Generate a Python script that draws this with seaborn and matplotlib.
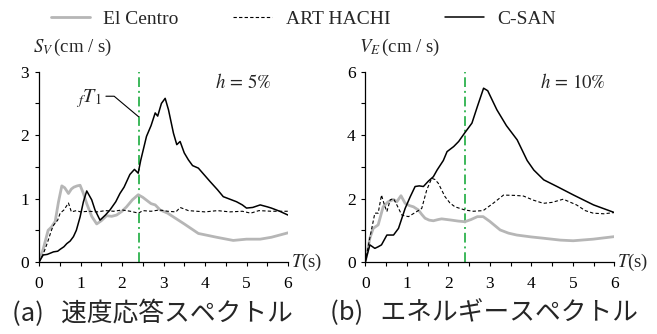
import numpy as np
import pandas as pd
import matplotlib
matplotlib.use("Agg")
import matplotlib.pyplot as plt
from matplotlib.ticker import MultipleLocator
import seaborn as sns

# ---- (a) velocity response spectra, h = 5% ----
t_ec_a = [0, 0.1, 0.22, 0.3, 0.39, 0.47, 0.55, 0.62, 0.71, 0.78, 0.84, 0.92, 0.99, 1.07,
          1.15, 1.27, 1.39, 1.5, 1.63, 1.75, 1.87, 2.0, 2.11, 2.25, 2.39, 2.5, 2.6, 2.7,
          2.8, 2.92, 3.1, 3.24, 3.5, 3.84, 4.28, 4.68, 5.0, 5.33, 5.6, 6.0]
sv_ec_a = [0, 0.2, 0.5, 0.55, 0.64, 0.95, 1.2, 1.17, 1.08, 1.15, 1.18, 1.2, 1.21, 1.08,
           0.92, 0.72, 0.6, 0.65, 0.73, 0.72, 0.74, 0.8, 0.87, 0.98, 1.06, 1.02, 0.97, 0.92,
           0.9, 0.82, 0.77, 0.71, 0.6, 0.45, 0.39, 0.34, 0.36, 0.36, 0.39, 0.46]

t_art_a = [0, 0.1, 0.2, 0.3, 0.35, 0.45, 0.51, 0.6, 0.71, 0.78, 0.9, 1.0, 1.2, 1.4, 1.6,
           1.8, 2.0, 2.2, 2.4, 2.5, 2.7, 2.9, 3.1, 3.3, 3.4, 3.6, 3.8, 4.0, 4.3, 4.6, 4.9,
           5.1, 5.3, 5.6, 6.0]
sv_art_a = [0, 0.12, 0.3, 0.5, 0.58, 0.66, 0.77, 0.82, 0.93, 0.79, 0.81, 0.79, 0.8, 0.79,
            0.81, 0.8, 0.82, 0.8, 0.77, 0.81, 0.8, 0.82, 0.8, 0.79, 0.86, 0.81, 0.8, 0.79,
            0.81, 0.79, 0.8, 0.77, 0.81, 0.8, 0.8]

t_cs_a = [0, 0.1, 0.2, 0.35, 0.45, 0.51, 0.6, 0.67, 0.75, 0.83, 0.9, 0.99, 1.07, 1.15,
          1.21, 1.27, 1.35, 1.47, 1.6, 1.71, 1.85, 1.95, 2.05, 2.19, 2.3, 2.39, 2.45, 2.59,
          2.7, 2.8, 2.86, 2.95, 3.04, 3.12, 3.24, 3.32, 3.4, 3.5, 3.6, 3.7, 3.84, 4.0, 4.12,
          4.3, 4.44, 4.6, 4.76, 4.9, 5.0, 5.15, 5.33, 5.5, 5.6, 5.8, 6.0]
sv_cs_a = [0, 0.11, 0.12, 0.16, 0.17, 0.2, 0.24, 0.29, 0.33, 0.4, 0.5, 0.71, 0.95, 1.12,
           1.05, 0.98, 0.82, 0.66, 0.74, 0.82, 0.95, 1.08, 1.18, 1.38, 1.46, 1.4, 1.6, 1.98,
           2.15, 2.35, 2.3, 2.5, 2.58, 2.4, 2.03, 1.85, 1.9, 1.72, 1.61, 1.52, 1.48, 1.36, 1.27,
           1.14, 1.03, 0.99, 0.95, 0.9, 0.85, 0.86, 0.9, 0.87, 0.85, 0.8, 0.74]

# ---- (b) energy spectra, h = 10% ----
t_ec_b = [0, 0.11, 0.19, 0.31, 0.43, 0.55, 0.68, 0.76, 0.86, 0.96, 1.06, 1.16, 1.28, 1.36,
          1.44, 1.54, 1.64, 1.76, 1.84, 1.96, 2.08, 2.24, 2.4, 2.55, 2.7, 2.84, 3.0, 3.25,
          3.45, 3.65, 4.0, 4.29, 4.7, 5.01, 5.49, 6.0]
ve_ec_b = [0, 0.75, 1.06, 1.17, 1.74, 1.9, 1.97, 1.9, 2.09, 1.85, 1.78, 1.74, 1.64, 1.5,
           1.38, 1.32, 1.3, 1.34, 1.36, 1.34, 1.32, 1.29, 1.27, 1.34, 1.43, 1.43, 1.28, 1.01,
           0.91, 0.85, 0.79, 0.75, 0.69, 0.67, 0.72, 0.8]

t_art_b = [0, 0.1, 0.23, 0.31, 0.39, 0.46, 0.52, 0.6, 0.68, 0.76, 0.88, 1.04, 1.24, 1.36,
           1.48, 1.6, 1.68, 1.76, 1.92, 2.04, 2.16, 2.4, 2.6, 2.84, 3.08, 3.33, 3.6, 3.81,
           4.05, 4.29, 4.5, 4.77, 5.09, 5.3, 5.49, 5.75, 6.0]
ve_art_b = [0, 0.7, 1.54, 1.54, 2.11, 1.8, 1.59, 1.96, 2.0, 1.8, 1.48, 1.43, 1.59, 1.69,
            2.27, 2.64, 2.6, 2.48, 2.06, 1.86, 1.74, 1.64, 1.6, 1.62, 1.85, 2.11, 2.1, 2.08,
            1.95, 1.85, 1.88, 1.98, 1.8, 1.62, 1.54, 1.52, 1.56]

t_cs_b = [0, 0.11, 0.23, 0.31, 0.39, 0.52, 0.68, 0.8, 0.96, 1.08, 1.2, 1.3, 1.4, 1.52,
          1.64, 1.73, 1.88, 1.97, 2.13, 2.25, 2.39, 2.57, 2.7, 2.85, 2.95, 3.17, 3.4, 3.66,
          3.9, 4.06, 4.3, 4.62, 5.02, 5.5, 6.0]
ve_cs_b = [0, 0.54, 0.43, 0.48, 0.54, 0.85, 0.85, 1.06, 1.69, 2.05, 2.38, 2.4, 2.38, 2.55,
           2.69, 2.9, 3.2, 3.48, 3.64, 3.8, 4.06, 4.38, 4.9, 5.48, 5.4, 4.8, 4.3, 3.85,
           3.2, 2.9, 2.59, 2.38, 2.11, 1.8, 1.56]

t_first = 2.4  # first natural period fT1 (s)
series_names = ["El Centro", "ART HACHI", "C-SAN"]
captions = ["(a)   速度応答スペクトル", "(b)   エネルギースペクトル"]

sns.set_style("ticks")
plt.rcParams["font.family"] = ["Liberation Serif", "DejaVu Serif"]
plt.rcParams["mathtext.fontset"] = "stix"

W, H = 657, 334
fig = plt.figure(figsize=(W / 100, H / 100), dpi=100)
ax_a = fig.add_axes([39 / W, 1 - 262 / H, 249 / W, 190.3 / H])
ax_b = fig.add_axes([365.3 / W, 1 - 262 / H, 249 / W, 190.3 / H])

styles = [
    dict(color="#b6b6b6", linewidth=2.0, linestyle="-"),
    dict(color="black", linewidth=0.8, linestyle=(0, (3, 2))),
    dict(color="black", linewidth=1.1, linestyle="-"),
]

panels = [
    (ax_a, [(t_ec_a, sv_ec_a), (t_art_a, sv_art_a), (t_cs_a, sv_cs_a)], 3, 0.5, 1),
    (ax_b, [(t_ec_b, ve_ec_b), (t_art_b, ve_art_b), (t_cs_b, ve_cs_b)], 6, 1, 2),
]

for ax, data, ymax, yminor, ymajor in panels:
    for (t, v), name, st in zip(data, series_names, styles):
        df = pd.DataFrame({"T": t, "V": v})
        sns.lineplot(data=df, x="T", y="V", ax=ax, label=name, sort=False,
                     estimator=None, **st)
    ax.axvline(t_first, color="#3cb85a", linewidth=1.4,
               linestyle=(0, (5, 2, 1, 2)), zorder=1)
    ax.set_xlim(0, 6)
    ax.set_ylim(0, ymax)
    ax.xaxis.set_major_locator(MultipleLocator(1))
    ax.xaxis.set_minor_locator(MultipleLocator(0.5))
    ax.yaxis.set_major_locator(MultipleLocator(ymajor))
    ax.yaxis.set_minor_locator(MultipleLocator(yminor))
    ax.tick_params(axis="both", which="both", direction="out", length=3,
                   width=0.8, labelsize=12.5, colors="black")
    ax.tick_params(axis="x", which="both", pad=7)
    ax.tick_params(axis="y", which="both", pad=4)
    for s in ("top", "right"):
        ax.spines[s].set_visible(False)
    for s in ("left", "bottom"):
        ax.spines[s].set_linewidth(0.9)
        ax.spines[s].set_color("black")
    ax.set_xlabel("")
    ax.set_ylabel("")
    ax.text(1.012, 0.0, r"$T$(s)", transform=ax.transAxes, ha="left",
            va="center", fontsize=13.5)
    ax.get_legend().remove()

ax_a.text(-0.026, 1.13, r"$S_V\,$(cm / s)", transform=ax_a.transAxes,
          ha="left", va="center", fontsize=13.5)
ax_b.text(-0.026, 1.13, r"$V_E\,$(cm / s)", transform=ax_b.transAxes,
          ha="left", va="center", fontsize=13.5)
ax_a.text(0.705, 0.945, r"$h\,{=}\,5\%$", transform=ax_a.transAxes,
          ha="left", va="center", fontsize=13.5)
ax_b.text(0.70, 0.945, r"$h\,{=}\,10\%$", transform=ax_b.transAxes,
          ha="left", va="center", fontsize=13.5)

ax_a.annotate(r"${}_{f}T_{1}$", xy=(t_first, 2.29), xytext=(1.5, 2.57),
              ha="right", va="center", fontsize=14.5,
              arrowprops=dict(arrowstyle="-", color="black", lw=0.8,
                              relpos=(1.0, 0.62), shrinkA=1, shrinkB=0,
                              connectionstyle="angle,angleA=0,angleB=140,rad=0"))

handles, labels = ax_a.get_legend_handles_labels()
fig.legend(handles[:3], labels[:3], loc="center", bbox_to_anchor=(0.462, 0.943),
           ncol=3, frameon=False, fontsize=14, handlelength=2.0,
           handletextpad=0.7, columnspacing=2.8)

fig.text(12 / W, 1 - 313 / H, captions[0], ha="left", va="center",
         fontsize=18.5, family=["Noto Sans CJK JP", "DejaVu Sans"])
fig.text(330 / W, 1 - 313 / H, captions[1], ha="left", va="center",
         fontsize=18.5, family=["Noto Sans CJK JP", "DejaVu Sans"])

fig.savefig("out.png", dpi=100)
